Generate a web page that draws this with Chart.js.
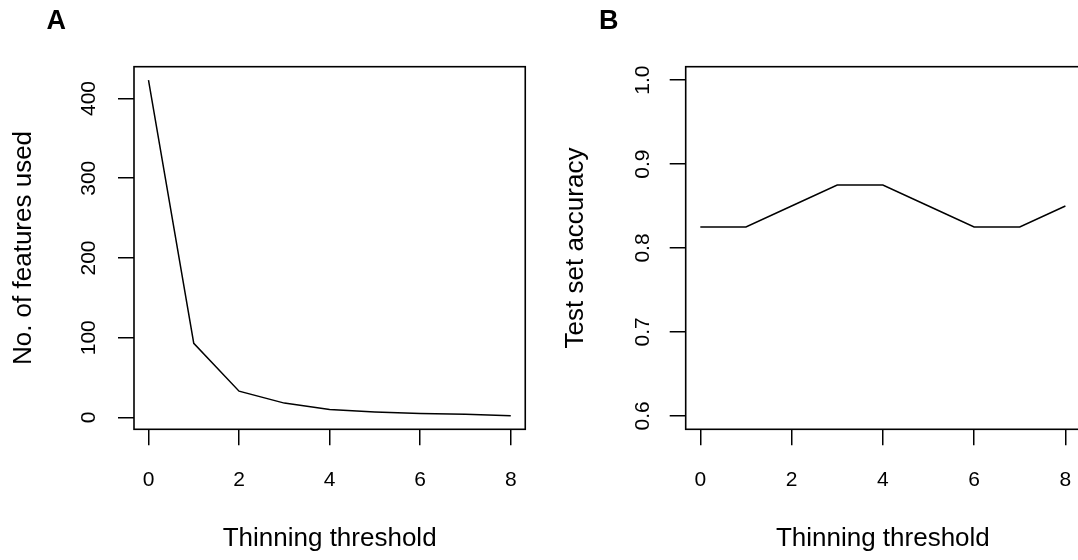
<!DOCTYPE html>
<html><head><meta charset="utf-8">
<script src="https://cdn.jsdelivr.net/npm/chart.js@4/dist/chart.umd.min.js"></script>
<style>
html,body{margin:0;padding:0;background:#fff;overflow:hidden;width:1078px;height:560px;}
#wrap{position:relative;width:1078px;height:560px;overflow:hidden;background:#fff;}
canvas{position:absolute;top:0;}
#cA{left:0;}
#cB{left:539px;}
.panel{position:absolute;font-family:"Liberation Sans",Arial,Helvetica,sans-serif;font-weight:bold;font-size:27px;line-height:27px;top:6.5px;color:#000;}
</style></head><body>
<div id="wrap">
<canvas id="cA" width="539" height="560"></canvas>
<canvas id="cB" width="560" height="560"></canvas>
<div class="panel" style="left:46.5px">A</div>
<div class="panel" style="left:599px">B</div>
</div>
<script>
// ---- data ----
const thresholds = [0, 1, 2, 3, 4, 5, 6, 7, 8];
const featuresUsed = [423, 93, 33, 18, 10, 7, 5, 4, 2];
const testAccuracy = [0.825, 0.825, 0.85, 0.875, 0.875, 0.85, 0.825, 0.825, 0.85];
const xTickValues = [0, 2, 4, 6, 8];
const yTicksFeatures = [0, 100, 200, 300, 400];
const yTicksAccuracy = [0.6, 0.7, 0.8, 0.9, 1.0];
const xTitle = 'Thinning threshold';
const yTitleA = 'No. of features used';
const yTitleB = 'Test set accuracy';

const FONT = '"Liberation Sans", Arial, Helvetica, sans-serif';

const boxPlugin = {
  id: 'rbox',
  afterDatasetsDraw(chart) {
    const {ctx, chartArea: a} = chart;
    ctx.save();
    ctx.strokeStyle = '#000';
    ctx.lineWidth = 1.6;
    ctx.strokeRect(a.left, a.top, a.right - a.left, a.bottom - a.top);
    ctx.restore();
  }
};

function build(id, yValues, yTicks, yRange, yTitle, g, fmt) {
  return new Chart(document.getElementById(id), {
    type: 'line',
    data: {
      datasets: [{
        data: thresholds.map((x, i) => ({x: x, y: yValues[i]})),
        borderColor: '#000', borderWidth: 1.5, pointRadius: 0, tension: 0, fill: false
      }]
    },
    options: {
      responsive: false, animation: false, devicePixelRatio: 1,
      layout: {padding: {top: 66.7, right: g.right, left: 0, bottom: 0}},
      plugins: {legend: {display: false}, tooltip: {enabled: false}},
      scales: {
        x: {
          type: 'linear', min: -0.32, max: 8.32,
          afterBuildTicks: s => { s.ticks = xTickValues.map(v => ({value: v})); },
          afterFit: s => { s.height = 130.7; },
          grid: {drawOnChartArea: false, drawTicks: true, tickLength: 16, color: '#000', lineWidth: 1.5},
          border: {display: false},
          ticks: {color: '#000', font: {family: FONT, size: 21}, padding: 22, autoSkip: false, maxRotation: 0, minRotation: 0},
          title: {display: true, text: xTitle, color: '#000', font: {family: FONT, size: 26}, padding: {top: 0, bottom: 5.4}}
        },
        y: {
          type: 'linear', min: yRange[0], max: yRange[1],
          afterBuildTicks: s => { s.ticks = yTicks.map(v => ({value: v})); },
          afterFit: s => { s.width = g.yw; },
          grid: {drawOnChartArea: false, drawTicks: true, tickLength: 16, color: '#000', lineWidth: 1.5},
          border: {display: false},
          ticks: {color: '#000', font: {family: FONT, size: 21}, padding: g.ypad, autoSkip: false,
                  minRotation: 90, maxRotation: 90, crossAlign: 'center', callback: fmt},
          title: {display: true, text: yTitle, color: '#000', font: {family: FONT, size: 26}, padding: {top: g.ytpad, bottom: 0}}
        }
      }
    },
    plugins: [boxPlugin]
  });
}

build('cA', featuresUsed, yTicksFeatures, [-14.84, 439.84], yTitleA,
      {right: 10.7, yw: 134, ypad: 11, ytpad: 8.1}, v => String(v));
build('cB', testAccuracy, yTicksAccuracy, [0.584, 1.016], yTitleB,
      {right: 19, yw: 146.7, ypad: 12.4, ytpad: 21.4}, v => Number(v).toFixed(1));
</script>
</body></html>
